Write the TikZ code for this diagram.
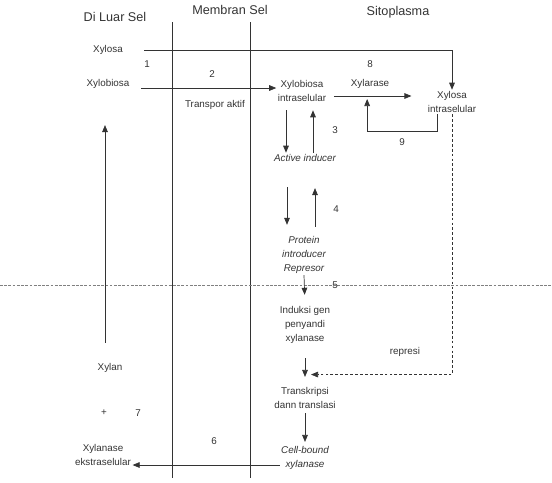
\documentclass[tikz,border=0pt]{standalone}
\usepackage{fontspec}
\setmainfont{Liberation Sans}
\usetikzlibrary{arrows.meta}
\definecolor{ink}{HTML}{333333}
\tikzset{
  head/.style={font=\fontsize{9}{11}\selectfont, text=ink, inner sep=1pt},
  lbl/.style={font=\fontsize{7}{9.9}\selectfont, text=ink, align=center, inner sep=1pt},
  ilbl/.style={lbl, font=\fontsize{7}{9.9}\selectfont\itshape},
  num/.style={font=\fontsize{7}{9}\selectfont, text=ink, inner sep=0pt},
  arr/.style={-{Triangle[length=5pt,width=4pt]}, ink, line width=0.5pt},
  wall/.style={ink, line width=0.5pt},
}
\begin{document}
\begin{tikzpicture}[x=0.025cm, y=-0.025cm]
  \useasboundingbox (0,0) rectangle (552,482);

  % Region headings
  \node[head] (luar) at (115,17) {Di Luar Sel};
  \node[head] (membran) at (230,10) {Membran Sel};
  \node[head] (sito) at (398,12) {Sitoplasma};

  % Membrane walls and the dotted divider
  \draw[wall] (172,22) -- (172,478);
  \draw[wall] (250,22) -- (250,478);
  \draw[gray, line width=0.4pt, dash pattern=on 2pt off 1pt] (0,285) -- (552,285);

  % Substances
  \node[lbl] (xylosa) at (108,50) {Xylosa};
  \node[lbl] (xylobiosa) at (108,84) {Xylobiosa};
  \node[lbl] (xbin) at (302,91) {Xylobiosa\\intraselular};
  \node[lbl] (xylarase) at (370,84) {Xylarase};
  \node[lbl] (xin) at (452,102) {Xylosa\\intraselular};
  \node[ilbl] (ai) at (305,158) {Active inducer};
  \node[ilbl] (pir) at (304,255) {Protein\\introducer\\Represor};
  \node[lbl] (induksi) at (305,325) {Induksi gen\\penyandi\\xylanase};
  \node[lbl] (trans) at (305,398) {Transkripsi\\dann translasi};
  \node[ilbl] (cbx) at (305,458) {Cell-bound\\xylanase};
  \node[lbl] (xek) at (103,455) {Xylanase\\ekstraselular};
  \node[lbl] (xylan) at (110,368) {Xylan};
  \node[lbl] (transpor) at (215,105) {Transpor aktif};
  \node[lbl] (represi) at (405,352) {represi};

  % Step numbers
  \foreach \n/\x/\y in {1/147/64, 2/212/74, 3/335/130, 4/336/209, 5/335/285,
                        6/214/441, 7/138/413, 8/370/64, 9/402/142}{
    \node[num] (n\n) at (\x,\y) {\n};
  }
  \node[num] (plus) at (104,413) {+};

  % Transport into the cell
  \draw[arr, shorten <=0.5cm] (xylosa.east) -| (xin.north);
  \draw[arr, shorten <=0.25cm] ([yshift=-0.1cm]xylobiosa.east) -- ([yshift=-0.1cm]xylobiosa.east -| xbin.west);
  \draw[arr, shorten <=0.15cm, shorten >=0.37cm] ([yshift=-0.125cm]xbin.east) -- coordinate[pos=0.4] (kat) ([yshift=-0.125cm]xbin.east -| xin.west);
  \draw[arr] ([xshift=-0.375cm]xin.south) |- ([yshift=-0.875cm]kat) -- ([yshift=-0.075cm]kat);

  % Induction chain
  \draw[arr, shorten <=5pt] ([xshift=-0.4cm]xbin.south) -- ([xshift=-0.4cm]xbin.south |- ai.north);
  \draw[arr, shorten >=5pt] ([xshift=0.275cm]xbin.south |- ai.north) -- ([xshift=0.275cm]xbin.south);
  \draw[arr, shorten <=0.6cm, shorten >=0.25cm] ([xshift=-0.45cm]ai.south) -- ([xshift=-0.45cm]ai.south |- pir.north);
  \draw[arr, shorten <=0.2cm, shorten >=0.62cm] ([xshift=0.25cm]ai.south |- pir.north) -- ([xshift=0.25cm]ai.south);
  \draw[arr, shorten >=0.25cm] (pir.south) -- (induksi.north);
  \draw[arr, shorten <=0.32cm, shorten >=0.22cm] (induksi.south) -- (trans.north);
  \draw[arr, dash pattern=on 2pt off 1.5pt] (xin.south) |- ([xshift=0.15cm,yshift=0.28cm]trans.north);
  \draw[arr, shorten <=2pt, shorten >=2pt] (trans.south) -- (cbx.north);

  % Secretion and back to xylan
  \draw[arr] ([yshift=-0.175cm]cbx.west) -- ([yshift=-0.175cm]cbx.west -| xek.east);
  \draw[arr, shorten <=0.47cm, shorten >=0.87cm] ([xshift=-0.125cm]xylan.north) -- ([xshift=-0.125cm]xylan.north |- xylobiosa.south);
\end{tikzpicture}
\end{document}
